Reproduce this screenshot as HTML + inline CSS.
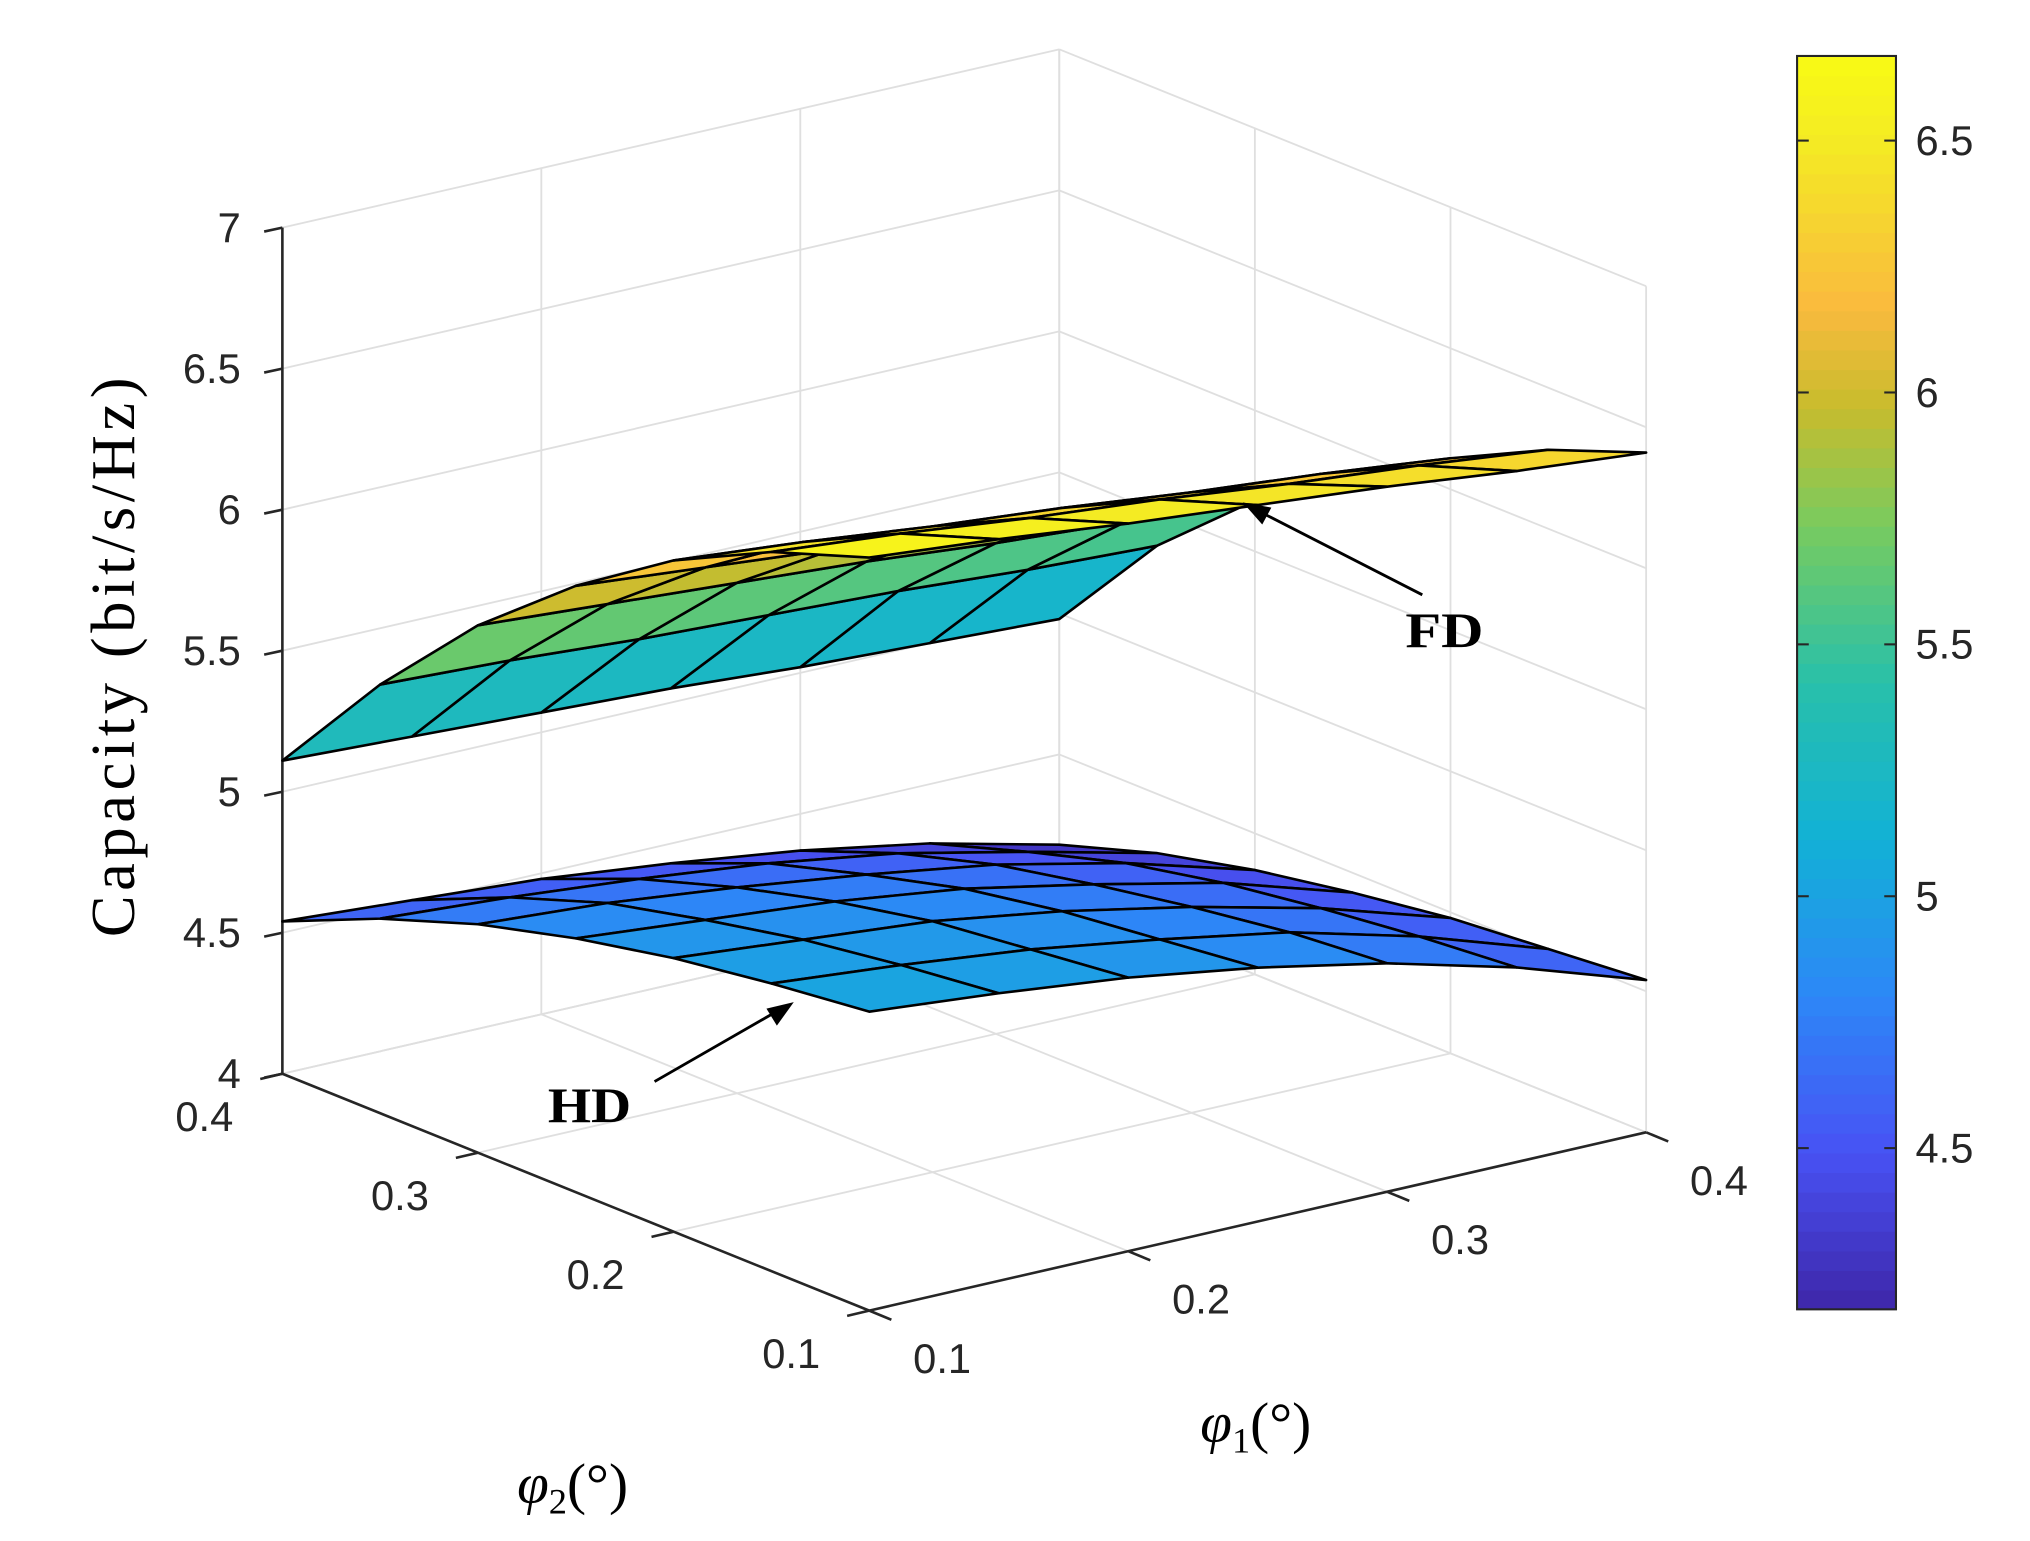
<!DOCTYPE html>
<html><head><meta charset="utf-8"><style>
html,body{margin:0;padding:0;background:#fff;}
svg{display:block;}
text{font-family:"Liberation Sans",sans-serif;fill:#262626;}
.serif{font-family:"Liberation Serif",serif;fill:#000;}
</style></head><body>
<svg id="chart" width="2030" height="1541" viewBox="0 0 1560 1184" preserveAspectRatio="none" xmlns="http://www.w3.org/2000/svg">
<g id="grid"></g>
<g id="axes"></g>
<g id="surfaces"></g>
<g id="cbar"></g>
<text class="serif" transform="translate(103,505) rotate(-90)" text-anchor="middle" font-size="48" textLength="430" lengthAdjust="spacing">Capacity (bit/s/Hz)</text>
<text class="serif" x="965" y="1108" text-anchor="middle" font-size="44"><tspan font-style="italic">φ</tspan><tspan font-size="28" dy="8">1</tspan><tspan dy="-8">(°)</tspan></text>
<text class="serif" x="440" y="1155" text-anchor="middle" font-size="44"><tspan font-style="italic">φ</tspan><tspan font-size="28" dy="8">2</tspan><tspan dy="-8">(°)</tspan></text>
<g>
<line x1="1093" y1="457" x2="960" y2="389" stroke="#000" stroke-width="2.2"/>
<polygon points="955,386 977,390 970,403" fill="#000"/>
<text class="serif" x="1110" y="497" text-anchor="middle" font-size="38" font-weight="bold" textLength="60" lengthAdjust="spacingAndGlyphs">FD</text>
</g>
<g>
<line x1="503" y1="831" x2="604" y2="773" stroke="#000" stroke-width="2.2"/>
<polygon points="610,770 597,788 589,775" fill="#000"/>
<text class="serif" x="453" y="862" text-anchor="middle" font-size="38" font-weight="bold" textLength="64" lengthAdjust="spacingAndGlyphs">HD</text>
</g>
</svg>
<script>
const phi1 = [0.1,0.15,0.2,0.25,0.3,0.35,0.4];
const phi2 = [0.1,0.15,0.2,0.25,0.3,0.35,0.4];
const zTicks = [4,4.5,5,5.5,6,6.5,7];
const zTickLabels = ["4","4.5","5","5.5","6","6.5","7"];
const xyTicks = [0.1,0.2,0.3,0.4];
const xyTickLabels = ["0.1","0.2","0.3","0.4"];
const cbTicks = [4.5,5,5.5,6,6.5];
const cbTickLabels = ["4.5","5","5.5","6","6.5"];
// rows: phi1 index, cols: phi2 index
const fdValues = [
[6.67,6.55,6.38,6.15,5.87,5.52,5.11],
[6.63,6.51,6.34,6.11,5.84,5.50,5.09],
[6.58,6.46,6.29,6.07,5.81,5.47,5.07],
[6.54,6.42,6.25,6.03,5.78,5.45,5.05],
[6.50,6.37,6.20,5.99,5.74,5.43,5.02],
[6.45,6.33,6.16,5.95,5.71,5.40,5.00],
[6.41,6.28,6.11,5.91,5.68,5.38,4.98]];
const hdValues = [
[5.06,5.02,4.97,4.90,4.81,4.69,4.54],
[5.02,4.98,4.93,4.86,4.78,4.66,4.51],
[4.97,4.93,4.89,4.82,4.73,4.62,4.48],
[4.90,4.86,4.82,4.76,4.67,4.57,4.43],
[4.81,4.78,4.73,4.67,4.60,4.50,4.37],
[4.69,4.66,4.62,4.57,4.50,4.40,4.29],
[4.54,4.51,4.48,4.43,4.37,4.29,4.18]];

const NS="http://www.w3.org/2000/svg";
const F={x:668,y:1007}, EX={x:597,y:-137}, EY={x:-451,y:-182}, ZS=216.7;
function P(a,b,z){const u=(a-0.1)/0.3,v=(b-0.1)/0.3;return [F.x+u*EX.x+v*EY.x, F.y+u*EX.y+v*EY.y-(z-4)*ZS];}
function mk(tag,attrs,parent){const e=document.createElementNS(NS,tag);for(const k in attrs)e.setAttribute(k,attrs[k]);parent.appendChild(e);return e;}
const CMIN=4.18,CMAX=6.668;
const stops=[[0,[62,38,168]],[0.125,[72,82,244]],[0.25,[45,135,247]],[0.375,[18,177,214]],[0.5,[40,192,170]],[0.625,[120,203,95]],[0.72,[200,188,45]],[0.8,[250,186,62]],[0.87,[246,212,48]],[0.93,[244,234,36]],[1,[249,251,20]]];
function cmap(v){let t=(v-CMIN)/(CMAX-CMIN);t=Math.max(0,Math.min(1,t));for(let i=1;i<stops.length;i++){if(t<=stops[i][0]){const a=stops[i-1],b=stops[i],f=(t-a[0])/(b[0]-a[0]);const c=a[1].map((x,k)=>Math.round(x+(b[1][k]-x)*f));return `rgb(${c})`;}}return 'rgb(249,251,20)';}

const grid=document.getElementById('grid');
const gs={stroke:'#dfdfdf','stroke-width':1.4,fill:'none'};
function gl(p,q){const l=mk('line',Object.assign({x1:p[0],y1:p[1],x2:q[0],y2:q[1]},gs),grid);

}
xyTicks.forEach(t=>{gl(P(t,0.4,4),P(t,0.4,7));gl(P(0.4,t,4),P(0.4,t,7));gl(P(t,0.1,4),P(t,0.4,4));gl(P(0.1,t,4),P(0.4,t,4));});
zTicks.forEach(z=>{gl(P(0.1,0.4,z),P(0.4,0.4,z));gl(P(0.4,0.4,z),P(0.4,0.1,z));});

const ax=document.getElementById('axes');
const as={stroke:'#262626','stroke-width':2};
function al(p,q,name){const l=mk('line',Object.assign({x1:p[0],y1:p[1],x2:q[0],y2:q[1]},as),ax);

}
al(P(0.1,0.4,4),P(0.1,0.4,7),'z-axis-line');
al(P(0.1,0.1,4),P(0.1,0.4,4),'y-axis-line');
al(P(0.1,0.1,4),P(0.4,0.1,4),'x-axis-line');
zTicks.forEach((z,i)=>{const p=P(0.1,0.4,z);al([p[0]-14,p[1]+3],p,'z-tick');
const t=mk('text',{x:p[0]-32,y:p[1]+11,'text-anchor':'end','font-size':32},ax);t.textContent=zTickLabels[i];

});
xyTicks.forEach((v,i)=>{const p=P(v,0.1,4);al(p,[p[0]+17,p[1]+7],'x-tick');
const t=mk('text',{x:p[0]+56,y:p[1]+48,'text-anchor':'middle','font-size':32},ax);t.textContent=xyTickLabels[i];


const q=P(0.1,v,4);al(q,[q[0]-17,q[1]+4],'y-tick');
const t2=mk('text',{x:q[0]-60,y:q[1]+44,'text-anchor':'middle','font-size':32},ax);t2.textContent=xyTickLabels[i];

});

const sg=document.getElementById('surfaces');
function surf(Z,name){const g=mk('g',{},sg);


const faces=[];for(let i=0;i<phi1.length-1;i++)for(let j=0;j<phi2.length-1;j++)faces.push([i,j]);
faces.sort((a,b)=>(b[0]+b[1])-(a[0]+a[1]));
faces.forEach(([i,j])=>{const c=[[i,j],[i+1,j],[i+1,j+1],[i,j+1]];
const pts=c.map(([a,b])=>P(phi1[a],phi2[b],Z[a][b]).join(',')).join(' ');
const avg=(Z[i][j]+Z[i+1][j]+Z[i+1][j+1]+Z[i][j+1])/4;
const p=mk('polygon',{points:pts,fill:cmap(avg),stroke:'#000','stroke-width':2,'stroke-linejoin':'round'},g);

});}
surf(hdValues,'hd-surface');
surf(fdValues,'fd-surface');

const cb=document.getElementById('cbar');
const CX=1381,CW=76,CT=43,CB=1006;
const cy=v=>CB-(v-CMIN)/(CMAX-CMIN)*(CB-CT);
const N=64;for(let k=0;k<N;k++){const v0=CMIN+(CMAX-CMIN)*k/N,v1=CMIN+(CMAX-CMIN)*(k+1)/N;
const r=mk('rect',{x:CX,y:cy(v1),width:CW,height:cy(v0)-cy(v1)+0.6,fill:cmap((v0+v1)/2)},cb);

}
const fr=mk('rect',{x:CX,y:CT,width:CW,height:CB-CT,fill:'none',stroke:'#262626','stroke-width':1.6},cb);


cbTicks.forEach((v,i)=>{const y=cy(v);mk('line',{x1:CX+CW-9,y1:y,x2:CX+CW,y2:y,stroke:'#262626','stroke-width':1.6},cb);
mk('line',{x1:CX,y1:y,x2:CX+9,y2:y,stroke:'#262626','stroke-width':1.6},cb);
const t=mk('text',{x:CX+CW+15,y:y+11,'font-size':32},cb);t.textContent=cbTickLabels[i];

});
</script>
</body></html>
